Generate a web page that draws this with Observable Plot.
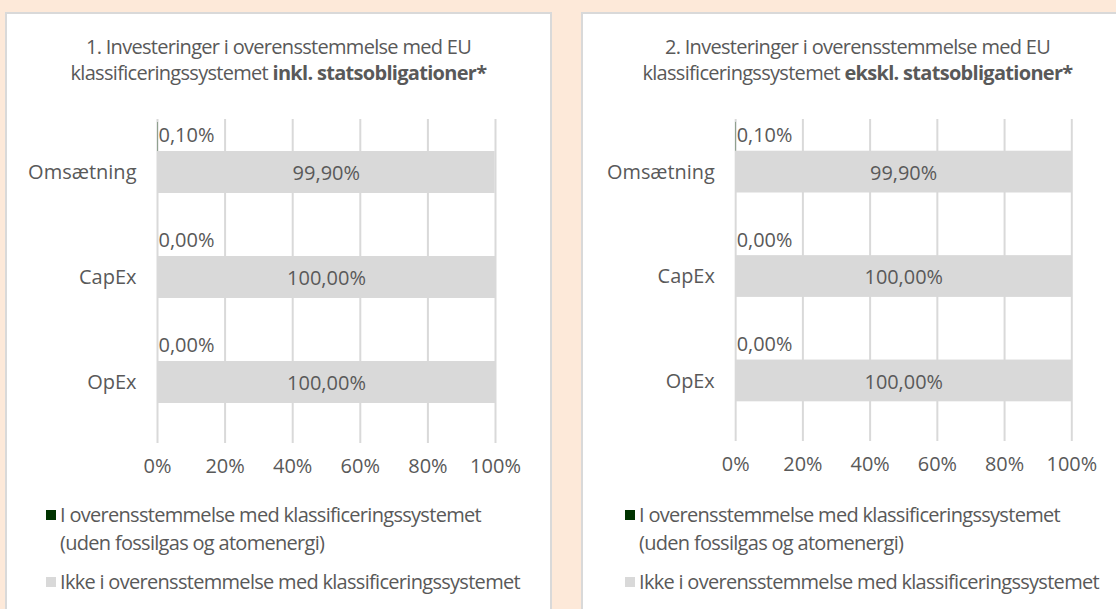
<!DOCTYPE html>
<html><head><meta charset="utf-8">
<script src="https://cdn.jsdelivr.net/npm/d3@7"></script>
<script src="https://cdn.jsdelivr.net/npm/@observablehq/plot@0.6"></script>
<style>
html,body{margin:0;padding:0;width:1116px;height:609px;overflow:hidden;background:#fde9d9;font-family:"Open Sans",sans-serif;color:#595959;}
.panel{position:absolute;top:12px;width:543px;height:640px;background:#fff;border:2px solid #d9d9d9;}
.title{position:absolute;left:0;width:100%;top:20px;text-align:center;font-size:20px;line-height:26px;letter-spacing:-0.7px;}
.title b{font-weight:700;}
.chart{position:absolute;left:0;top:86px;}
.legend{position:absolute;left:39px;top:487px;font-size:20px;line-height:28px;white-space:nowrap;letter-spacing:-0.7px;}
.item{position:relative;padding-left:14px;margin-bottom:11px;}
.sw{position:absolute;left:0;top:9px;width:10px;height:10px;}
</style></head><body>
<script>
const categories = ["Omsætning", "CapEx", "OpEx"];
const aligned1 = [0.10, 0.00, 0.00];
const notAligned1 = [99.90, 100.00, 100.00];
const aligned2 = [0.10, 0.00, 0.00];
const notAligned2 = [99.90, 100.00, 100.00];
const xTicks = [0, 20, 40, 60, 80, 100];
const titleLine1 = ["1. Investeringer i overensstemmelse med EU", "2. Investeringer i overensstemmelse med EU"];
const titleLine2 = ["klassificeringssystemet", "klassificeringssystemet"];
const titleBold = ["inkl. statsobligationer*", "ekskl. statsobligationer*"];
const legendLabels = ["I overensstemmelse med klassificeringssystemet<br>(uden fossilgas og atomenergi)", "Ikke i overensstemmelse med klassificeringssystemet"];
const seriesColors = ["#003300", "#d9d9d9"];

const fmt = v => v.toFixed(2).replace(".", ",") + "%";

function makeChart(aligned, notAligned) {
  const rows = categories.map((c, i) => ({category: c, aligned: aligned[i], notAligned: notAligned[i]}));
  return Plot.plot({
    width: 543, height: 393,
    marginLeft: 150, marginRight: 55, marginTop: 19, marginBottom: 50,
    style: {fontFamily: '"Open Sans", sans-serif', fontSize: "20px", color: "#595959", background: "transparent", overflow: "visible"},
    x: {domain: [0, 100], ticks: xTicks, tickFormat: d => d + "%", tickSize: 0, tickPadding: 15, label: null},
    y: {domain: categories, range: [20, 335], padding: 0, tickSize: 0, tickPadding: 21, label: null},
    marks: [
      Plot.gridX(xTicks, {stroke: "#d9d9d9", strokeOpacity: 1, strokeWidth: 2}),
      Plot.barX(rows, {x: "notAligned", y: "category", fill: seriesColors[1], insetTop: 31, insetBottom: 32}),
      Plot.barX(rows, {x: "aligned", y: "category", fill: seriesColors[0], insetTop: 2, insetBottom: 74}),
      Plot.text(rows, {x: d => d.notAligned / 2, y: "category", text: d => fmt(d.notAligned), fill: "#595959", fontSize: 20, dy: 1}),
      Plot.text(rows, {x: 0, y: "category", text: d => fmt(d.aligned), fill: "#595959", fontSize: 20, textAnchor: "start", dx: 1, dy: -37})
    ]
  });
}

const panels = [
  {left: 5, shift: 0, aligned: aligned1, notAligned: notAligned1},
  {left: 581, shift: 3, aligned: aligned2, notAligned: notAligned2}
];
panels.forEach((p, i) => {
  const panel = document.createElement("div");
  panel.className = "panel";
  panel.style.left = p.left + "px";
  const title = document.createElement("div");
  title.className = "title";
  title.style.left = p.shift + "px";
  title.innerHTML = titleLine1[i] + "<br>" + titleLine2[i] + " <b>" + titleBold[i] + "</b>";
  panel.appendChild(title);
  const chart = document.createElement("div");
  chart.className = "chart";
  chart.style.left = p.shift + "px";
  chart.appendChild(makeChart(p.aligned, p.notAligned));
  panel.appendChild(chart);
  const legend = document.createElement("div");
  legend.className = "legend";
  legend.style.left = (39 + p.shift) + "px";
  legend.innerHTML = legendLabels.map((l, k) =>
    `<div class="item"><span class="sw" style="background:${seriesColors[k]}"></span>${l}</div>`).join("");
  panel.appendChild(legend);
  document.body.appendChild(panel);
});
</script>
</body></html>
